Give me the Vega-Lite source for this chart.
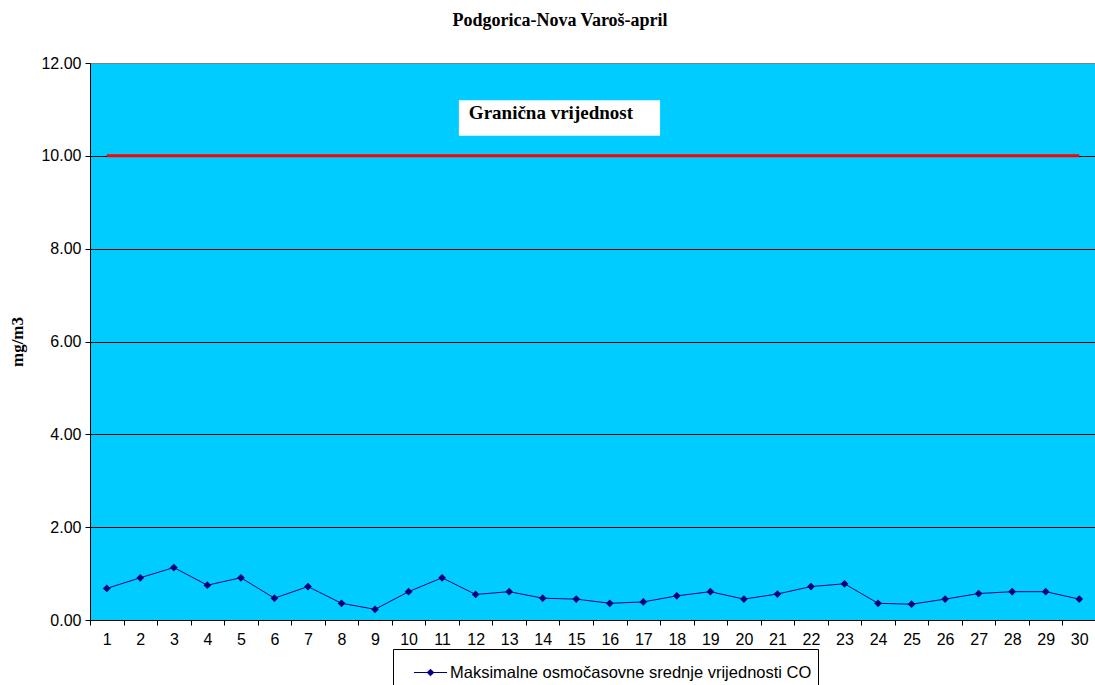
{
  "$schema": "https://vega.github.io/schema/vega-lite/v6.json",
  "width": 1006,
  "height": 557,
  "autosize": {"type": "none"},
  "padding": {"left": 90, "top": 63, "right": 0, "bottom": 65},
  "background": "white",
  "config": {"view": {"fill": "#00CCFF", "stroke": "#808080", "strokeWidth": 1}},
  "title": {"text": "Podgorica-Nova Varoš-april", "font": "Liberation Serif", "fontSize": 18, "fontWeight": "bold", "color": "black", "anchor": "middle", "dx": -33, "offset": 25},
  "datasets": {
    "co": [
      {"day": 1, "co": 0.68, "limit": 10, "series": "Maksimalne osmočasovne srednje vrijednosti CO"},
      {"day": 2, "co": 0.91, "limit": 10, "series": "Maksimalne osmočasovne srednje vrijednosti CO"},
      {"day": 3, "co": 1.13, "limit": 10, "series": "Maksimalne osmočasovne srednje vrijednosti CO"},
      {"day": 4, "co": 0.75, "limit": 10, "series": "Maksimalne osmočasovne srednje vrijednosti CO"},
      {"day": 5, "co": 0.91, "limit": 10, "series": "Maksimalne osmočasovne srednje vrijednosti CO"},
      {"day": 6, "co": 0.47, "limit": 10, "series": "Maksimalne osmočasovne srednje vrijednosti CO"},
      {"day": 7, "co": 0.72, "limit": 10, "series": "Maksimalne osmočasovne srednje vrijednosti CO"},
      {"day": 8, "co": 0.36, "limit": 10, "series": "Maksimalne osmočasovne srednje vrijednosti CO"},
      {"day": 9, "co": 0.23, "limit": 10, "series": "Maksimalne osmočasovne srednje vrijednosti CO"},
      {"day": 10, "co": 0.61, "limit": 10, "series": "Maksimalne osmočasovne srednje vrijednosti CO"},
      {"day": 11, "co": 0.91, "limit": 10, "series": "Maksimalne osmočasovne srednje vrijednosti CO"},
      {"day": 12, "co": 0.55, "limit": 10, "series": "Maksimalne osmočasovne srednje vrijednosti CO"},
      {"day": 13, "co": 0.61, "limit": 10, "series": "Maksimalne osmočasovne srednje vrijednosti CO"},
      {"day": 14, "co": 0.47, "limit": 10, "series": "Maksimalne osmočasovne srednje vrijednosti CO"},
      {"day": 15, "co": 0.45, "limit": 10, "series": "Maksimalne osmočasovne srednje vrijednosti CO"},
      {"day": 16, "co": 0.36, "limit": 10, "series": "Maksimalne osmočasovne srednje vrijednosti CO"},
      {"day": 17, "co": 0.39, "limit": 10, "series": "Maksimalne osmočasovne srednje vrijednosti CO"},
      {"day": 18, "co": 0.52, "limit": 10, "series": "Maksimalne osmočasovne srednje vrijednosti CO"},
      {"day": 19, "co": 0.61, "limit": 10, "series": "Maksimalne osmočasovne srednje vrijednosti CO"},
      {"day": 20, "co": 0.45, "limit": 10, "series": "Maksimalne osmočasovne srednje vrijednosti CO"},
      {"day": 21, "co": 0.56, "limit": 10, "series": "Maksimalne osmočasovne srednje vrijednosti CO"},
      {"day": 22, "co": 0.72, "limit": 10, "series": "Maksimalne osmočasovne srednje vrijednosti CO"},
      {"day": 23, "co": 0.78, "limit": 10, "series": "Maksimalne osmočasovne srednje vrijednosti CO"},
      {"day": 24, "co": 0.36, "limit": 10, "series": "Maksimalne osmočasovne srednje vrijednosti CO"},
      {"day": 25, "co": 0.34, "limit": 10, "series": "Maksimalne osmočasovne srednje vrijednosti CO"},
      {"day": 26, "co": 0.45, "limit": 10, "series": "Maksimalne osmočasovne srednje vrijednosti CO"},
      {"day": 27, "co": 0.57, "limit": 10, "series": "Maksimalne osmočasovne srednje vrijednosti CO"},
      {"day": 28, "co": 0.61, "limit": 10, "series": "Maksimalne osmočasovne srednje vrijednosti CO"},
      {"day": 29, "co": 0.61, "limit": 10, "series": "Maksimalne osmočasovne srednje vrijednosti CO"},
      {"day": 30, "co": 0.45, "limit": 10, "series": "Maksimalne osmočasovne srednje vrijednosti CO"}
    ],
    "note": [{"label": "Granična vrijednost"}]
  },
  "data": {"name": "co"},
  "encoding": {
    "x": {
      "field": "day", "type": "ordinal",
      "scale": {"type": "band", "paddingInner": 0, "paddingOuter": 0},
      "axis": {"title": null, "labelAngle": 0, "tickBand": "extent", "grid": false, "domainColor": "black", "tickColor": "black", "tickSize": 5, "labelFont": "Liberation Sans", "labelFontSize": 16, "labelColor": "black", "labelPadding": 6}
    }
  },
  "layer": [
    {
      "data": {"name": "note"},
      "mark": {"type": "rect", "fill": "white"},
      "encoding": {
        "x": {"datum": 12, "type": "ordinal", "bandPosition": 0},
        "x2": {"datum": 17, "bandPosition": 1},
        "x2Offset": {"value": -6},
        "y": {"datum": 11.2, "type": "quantitative"},
        "y2": {"datum": 10.43}
      }
    },
    {
      "data": {"name": "note"},
      "mark": {"type": "text", "align": "left", "baseline": "alphabetic", "dx": 10, "font": "Liberation Serif", "fontSize": 19, "fontWeight": "bold", "color": "black"},
      "encoding": {
        "x": {"datum": 12, "type": "ordinal", "bandPosition": 0},
        "y": {"datum": 10.79, "type": "quantitative"},
        "text": {"field": "label"}
      }
    },
    {
      "mark": {"type": "line", "color": "#FF0000", "strokeWidth": 3},
      "encoding": {
        "y": {"field": "limit", "type": "quantitative"}
      }
    },
    {
      "mark": {"type": "line", "strokeWidth": 1, "point": {"shape": "diamond", "filled": true, "size": 60}},
      "encoding": {
        "y": {
          "field": "co", "type": "quantitative",
          "scale": {"domain": [0, 12], "nice": false},
          "axis": {"values": [0, 2, 4, 6, 8, 10, 12], "format": ".2f", "grid": true, "gridColor": {"condition": {"test": "datum.value == 12", "value": "#808080"}, "value": "black"}, "gridWidth": 1, "domainColor": "black", "tickColor": "black", "tickSize": 5, "labelFont": "Liberation Sans", "labelFontSize": 16, "labelColor": "black", "labelPadding": 4, "title": "mg/m3", "titleFont": "Liberation Serif", "titleFontSize": 17, "titleFontWeight": "bold", "titleColor": "black", "titlePadding": 14}
        },
        "color": {
          "field": "series", "type": "nominal",
          "scale": {"range": ["#000080"]},
          "legend": {"title": null, "orient": "none", "legendX": 303, "legendY": 586, "strokeColor": "black", "fillColor": "white", "padding": 6, "labelFont": "Liberation Sans", "labelFontSize": 16.5, "labelColor": "black", "labelLimit": 0, "symbolType": "M-1,0H1M0,-0.2L0.2,0L0,0.2L-0.2,0Z", "symbolSize": 1100, "symbolStrokeWidth": 1, "symbolStrokeColor": "#000080", "symbolFillColor": "#000080", "symbolOffset": 14, "labelOffset": 2}
        }
      }
    }
  ]
}
